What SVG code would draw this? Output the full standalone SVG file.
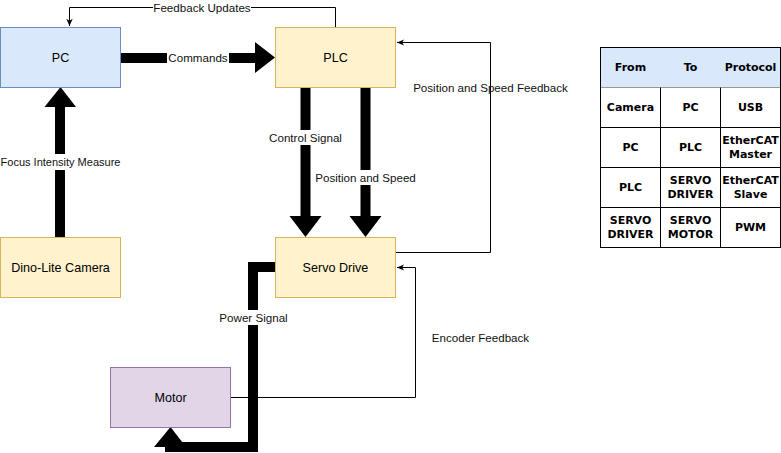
<svg xmlns="http://www.w3.org/2000/svg" width="781" height="453" viewBox="0 0 781 453">
  <style>
    .node-label { font-family: "Liberation Sans", Arial, sans-serif; font-size: 12.6px; fill: #000; text-anchor: middle; dominant-baseline: central; }
    .edge-label { font-family: "Liberation Sans", Arial, sans-serif; font-size: 11.6px; fill: #111; text-anchor: middle; dominant-baseline: central; }
    .thin { fill: none; stroke: #000; stroke-width: 1; }
    .thick { fill: none; stroke: #000; stroke-width: 10; stroke-linejoin: miter; }
    .head { fill: #000; }
    .blue { fill: #dae8fc; stroke: #6c8ebf; }
    .yellow { fill: #fff2cc; stroke: #d6b656; }
    .purple { fill: #e1d5e7; stroke: #9673a6; }
    .cell { font-family: "DejaVu Sans", Verdana, sans-serif; font-size: 11px; font-weight: bold; fill: #000; text-anchor: middle; dominant-baseline: central; }
    .lbg { fill: #fff; }
  </style>
  <defs>
    <marker id="open" viewBox="0 0 10 10" refX="9" refY="5" markerWidth="8" markerHeight="8" orient="auto" markerUnits="userSpaceOnUse">
      <path d="M0,1 L9,5 L0,9 L2.5,5 Z" fill="#000"/>
    </marker>
  </defs>

  <g id="connectors">
    <!-- PC to PLC commands -->
    <path class="thick" d="M120,58 H256"/>
    <polygon class="head" points="255,42 275,57.5 255,73"/>
    <rect class="lbg" x="167" y="50" width="62" height="15"/>
    <text class="edge-label" x="198" y="57.5">Commands</text>

    <!-- PLC feedback updates to PC -->
    <path class="thin" d="M335.5,27 V7.5 H69.5 V26" marker-end="url(#open)"/>
    <rect class="lbg" x="153" y="0" width="98" height="14"/>
    <text class="edge-label" x="202" y="7">Feedback Updates</text>

    <!-- Camera to PC -->
    <path class="thick" d="M60,237 V106"/>
    <polygon class="head" points="44.5,107 60.5,87 76,107"/>
    <rect class="lbg" x="0" y="154" width="121" height="16"/>
    <text class="edge-label" x="60.5" y="162" style="font-size:11px">Focus Intensity Measure</text>

    <!-- PLC to Servo Drive: control signal -->
    <path class="thick" d="M305.5,87 V218"/>
    <polygon class="head" points="289.5,216 321.5,216 305.5,237"/>
    <rect class="lbg" x="264" y="130" width="83" height="15"/>
    <text class="edge-label" x="305.5" y="137">Control Signal</text>

    <!-- PLC to Servo Drive: position and speed -->
    <path class="thick" d="M365.5,87 V218"/>
    <polygon class="head" points="349.5,216 381.5,216 365.5,237"/>
    <rect class="lbg" x="311" y="170" width="109" height="15"/>
    <text class="edge-label" x="365.5" y="177">Position and Speed</text>

    <!-- Servo Drive position/speed feedback to PLC -->
    <path class="thin" d="M395,252.5 H490.5 V42.5 H397" marker-end="url(#open)"/>
    <text class="edge-label" x="490.5" y="87">Position and Speed Feedback</text>

    <!-- Servo Drive power signal to Motor -->
    <path class="thick" d="M275,267 H253 V447 H170 V440"/>
    <polygon class="head" points="154,447 170.5,427 186,447"/>
    <rect class="lbg" x="217" y="310" width="73" height="15"/>
    <text class="edge-label" x="253.5" y="317">Power Signal</text>

    <!-- Motor encoder feedback to Servo Drive -->
    <path class="thin" d="M231,397.5 H415.5 V267.5 H397" marker-end="url(#open)"/>
    <text class="edge-label" x="480.5" y="337">Encoder Feedback</text>
  </g>

  <g id="pc">
    <rect class="blue" x="0.5" y="27.5" width="120" height="60"/>
    <text class="node-label" x="60.5" y="57.5">PC</text>
  </g>
  <g id="plc">
    <rect class="yellow" x="275.5" y="27.5" width="120" height="60"/>
    <text class="node-label" x="335.5" y="57.5">PLC</text>
  </g>
  <g id="camera">
    <rect class="yellow" x="0.5" y="237.5" width="120" height="60"/>
    <text class="node-label" x="60.5" y="267.5">Dino-Lite Camera</text>
  </g>
  <g id="servo-drive">
    <rect class="yellow" x="275.5" y="237.5" width="120" height="60"/>
    <text class="node-label" x="335.5" y="267.5">Servo Drive</text>
  </g>
  <g id="motor">
    <rect class="purple" x="110.5" y="367.5" width="120" height="60"/>
    <text class="node-label" x="170.5" y="397.5">Motor</text>
  </g>

  <g id="protocol-table">
    <rect x="600.5" y="47.5" width="180" height="40" fill="#dae8fc"/>
    <path d="M600.5,87.5 H780.5" stroke="#999" stroke-width="1" fill="none"/>
    <path d="M660.5,87.5 V247.5 M720.5,87.5 V247.5 M600.5,127.5 H780.5 M600.5,167.5 H780.5 M600.5,207.5 H780.5" stroke="#000" stroke-width="1" fill="none"/>
    <rect x="600.5" y="47.5" width="180" height="200" fill="none" stroke="#000" stroke-width="1"/>

    <text class="cell" x="630.5" y="67.5">From</text>
    <text class="cell" x="690.5" y="67.5">To</text>
    <text class="cell" x="750.5" y="67.5">Protocol</text>

    <text class="cell" x="630.5" y="107.5">Camera</text>
    <text class="cell" x="690.5" y="107.5">PC</text>
    <text class="cell" x="750.5" y="107.5">USB</text>

    <text class="cell" x="630.5" y="147.5">PC</text>
    <text class="cell" x="690.5" y="147.5">PLC</text>
    <text class="cell" x="750.5" y="140.5">EtherCAT</text>
    <text class="cell" x="750.5" y="154.5">Master</text>

    <text class="cell" x="630.5" y="187.5">PLC</text>
    <text class="cell" x="690.5" y="180.5">SERVO</text>
    <text class="cell" x="690.5" y="194.5">DRIVER</text>
    <text class="cell" x="750.5" y="180.5">EtherCAT</text>
    <text class="cell" x="750.5" y="194.5">Slave</text>

    <text class="cell" x="630.5" y="220.5">SERVO</text>
    <text class="cell" x="630.5" y="234.5">DRIVER</text>
    <text class="cell" x="690.5" y="220.5">SERVO</text>
    <text class="cell" x="690.5" y="234.5">MOTOR</text>
    <text class="cell" x="750.5" y="227.5">PWM</text>
  </g>
</svg>
